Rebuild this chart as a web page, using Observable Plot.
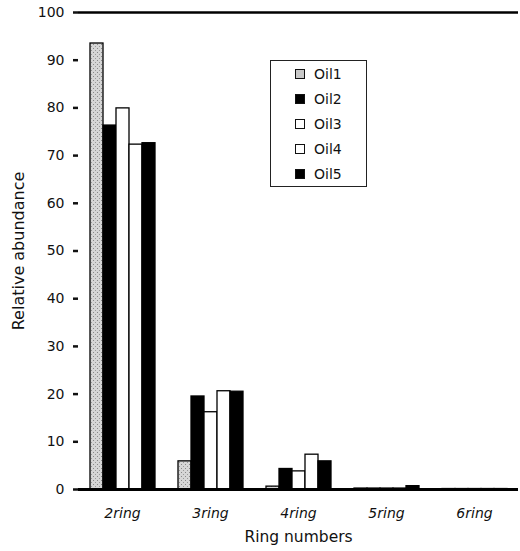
<!DOCTYPE html>
<html>
<head>
<meta charset="utf-8">
<script src="https://cdn.jsdelivr.net/npm/d3@7"></script>
<script src="https://cdn.jsdelivr.net/npm/@observablehq/plot@0.6"></script>
<style>
  html, body { margin: 0; padding: 0; background: #fff; }
  #wrap { position: relative; width: 520px; height: 551px; font-family: "DejaVu Sans", sans-serif; }
  #wrap svg { display: block; }
  g[aria-label="y-axis tick label"] text { font-size: 14px; }
  g[aria-label="fx-axis tick label"] text { font-size: 14px; font-style: italic; }
  g[aria-label="y-axis label"] text { font-size: 16px; }
  g[aria-label="fx-axis label"] text { font-size: 15.5px; }
  #legend { position: absolute; left: 270px; top: 60px; width: 97px; height: 127px; border: 1.5px solid #222; box-sizing: border-box; padding: 0 0 0 24px; font-size: 14px; color: #111; }
  #legend .row { display: flex; align-items: center; height: 25px; }
  #legend .sw { width: 10px; height: 10px; border: 1.2px solid #111; margin-right: 9px; box-sizing: border-box; }
</style>
</head>
<body>
<div id="wrap"><div id="legend"></div></div>
<script>
const categories = ["2ring", "3ring", "4ring", "5ring", "6ring"];
const series = ["Oil1", "Oil2", "Oil3", "Oil4", "Oil5"];
const oil1 = [93.5, 5.9, 0.6, 0.2, 0.1];
const oil2 = [76.3, 19.5, 4.3, 0.2, 0.1];
const oil3 = [79.9, 16.2, 3.8, 0.2, 0.1];
const oil4 = [72.3, 20.6, 7.3, 0.2, 0.1];
const oil5 = [72.6, 20.5, 5.9, 0.7, 0.1];
const yTicks = [0, 10, 20, 30, 40, 50, 60, 70, 80, 90, 100];
const fills = ["url(#stipple)", "#000", "#fff", "#fff", "#000"];
const swatchFills = ["#c8c8c8", "#000", "#fff", "#fff", "#000"];

const values = [oil1, oil2, oil3, oil4, oil5];
const data = [];
categories.forEach((c, i) => series.forEach((s, j) => data.push({cat: c, series: s, value: values[j][i]})));

const chart = Plot.plot({
  width: 520,
  height: 551,
  marginLeft: 77,
  marginRight: 1,
  marginTop: 12,
  marginBottom: 62,
  style: {fontFamily: "DejaVu Sans, sans-serif", fontSize: "14px", color: "#111", background: "#fff"},
  fx: {domain: categories, padding: 0},
  x: {domain: series, paddingInner: 0, paddingOuter: 0.72, axis: null},
  y: {domain: [0, 100]},
  color: {domain: series, range: fills},
  marks: [
    Plot.barY(data, {fx: "cat", x: "series", y: "value", fill: "series", stroke: "#000", strokeWidth: 1.3}),
    Plot.ruleY([0], {stroke: "#000", strokeWidth: 3}),
    Plot.ruleY([100], {stroke: "#000", strokeWidth: 2.5}),
    Plot.axisY({anchor: "left", ticks: yTicks, tickSize: 5, tickPadding: 9, line: true, strokeWidth: 2.5,
      label: "Relative abundance", labelAnchor: "center", labelOffset: 66, labelArrow: false}),
    Plot.axisFx({anchor: "bottom", tickSize: 0, tickPadding: 19,
      label: "Ring numbers", labelAnchor: "center", labelOffset: 52}),
    Plot.axisY({anchor: "right", ticks: [], line: true, stroke: "#bbb", label: null})
  ]
});

const svg = d3.select(chart);
const defs = svg.insert("defs", ":first-child");
const pat = defs.append("pattern").attr("id", "stipple").attr("patternUnits", "userSpaceOnUse").attr("width", 4).attr("height", 4);
pat.append("rect").attr("width", 4).attr("height", 4).attr("fill", "#d6d6d6");
pat.append("rect").attr("x", 0).attr("y", 0).attr("width", 1).attr("height", 1).attr("fill", "#888");
pat.append("rect").attr("x", 2).attr("y", 2).attr("width", 1).attr("height", 1).attr("fill", "#999");

document.getElementById("wrap").prepend(chart);

const legend = d3.select("#legend");
series.forEach((s, j) => {
  const row = legend.append("div").attr("class", "row");
  row.append("div").attr("class", "sw").style("background", swatchFills[j]);
  row.append("span").text(s);
});
</script>
</body>
</html>
